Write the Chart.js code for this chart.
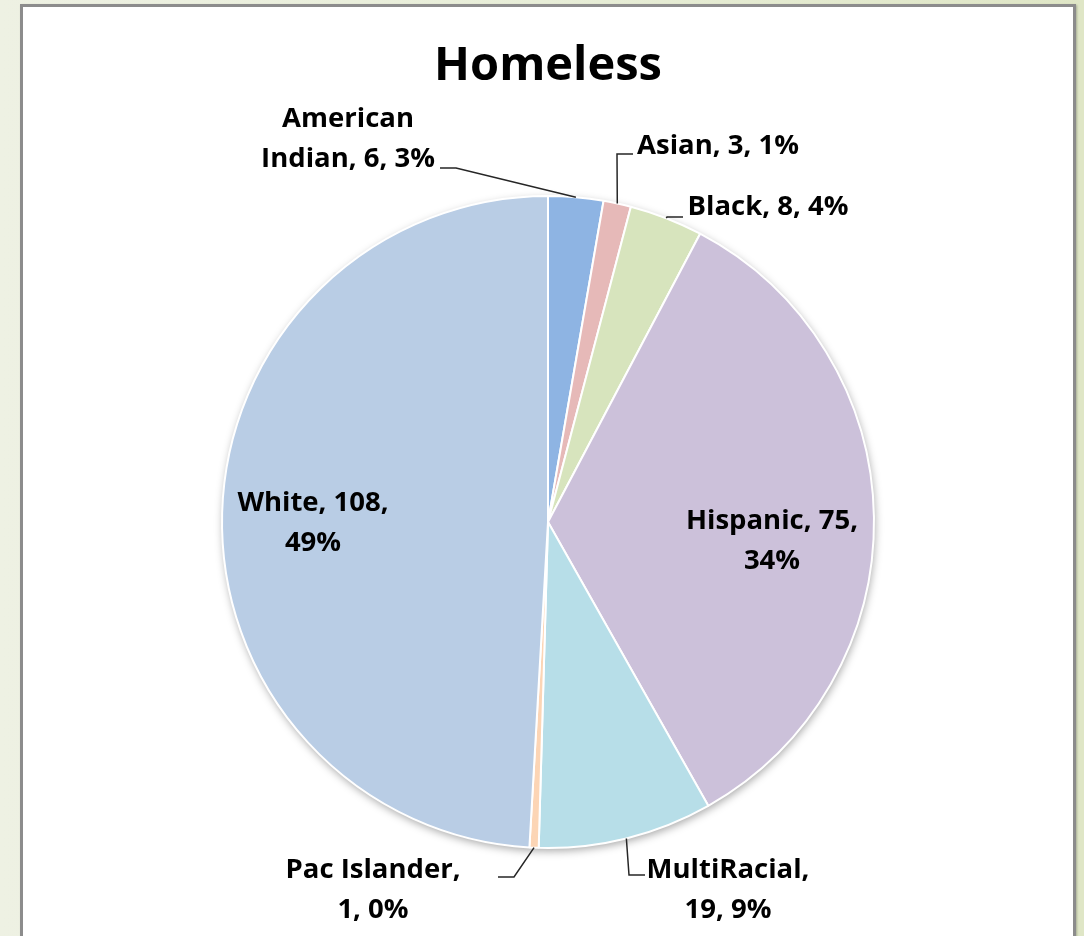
<!DOCTYPE html>
<html>
<head>
<meta charset="utf-8">
<script src="https://cdn.jsdelivr.net/npm/chart.js@4"></script>
<style>
  html, body { margin: 0; padding: 0; }
  body {
    width: 1084px; height: 936px; overflow: hidden; position: relative;
    background: linear-gradient(to right, #eef1e3 0%, #e8eed8 50%, #dfe6c6 100%);
  }
  #panel {
    position: absolute; left: 20px; top: 4px; width: 1050px; height: 1000px;
    background: #ffffff; border: 3px solid #8c8c8c;
    box-shadow: 1px 1px 2px rgba(0,0,0,0.25);
  }
  #c { position: absolute; left: 0; top: 0; }
</style>
</head>
<body>
<div id="panel"></div>
<canvas id="c" width="1084" height="936"></canvas>
<script>
// ---- data ----
const title = "Homeless";
const categories = ["American Indian", "Asian", "Black", "Hispanic", "MultiRacial", "Pac Islander", "White"];
const values = [6, 3, 8, 75, 19, 1, 108];
const colors = ["#8eb4e3", "#e6b9b8", "#d7e4bd", "#ccc1da", "#b7dee8", "#fcd5b5", "#b9cde5"];

// label layout (text centre positions, line breaks, leader attach point)
const labelLayout = [
  { lines: ["American", "Indian, {v}, {p}"], x: 348, y: 119, attach: [440, 168], dir: 1 },
  { lines: ["Asian, {v}, {p}"], x: 718, y: 146, attach: [633, 154], dir: -1 },
  { lines: ["Black, {v}, {p}"], x: 768, y: 207, attach: [683, 217], dir: -1 },
  { lines: ["Hispanic, {v},", "{p}"], x: 772, y: 521 },
  { lines: ["MultiRacial,", "{v}, {p}"], x: 728, y: 870, attach: [645, 875], dir: -1 },
  { lines: ["Pac Islander,", "{v}, {p}"], x: 373, y: 870, attach: [498, 877], dir: 1 },
  { lines: ["White, {v},", "{p}"], x: 313, y: 503 }
];

const FONT = "'Open Sans', Lato, sans-serif";

const shadowPlugin = {
  id: 'pieShadow',
  beforeDatasetsDraw(chart) {
    const arc = chart.getDatasetMeta(0).data[0];
    if (!arc) return;
    const ctx = chart.ctx;
    ctx.save();
    ctx.shadowColor = 'rgba(0,0,0,0.35)';
    ctx.shadowBlur = 8;
    ctx.shadowOffsetX = 1;
    ctx.shadowOffsetY = 3;
    ctx.fillStyle = '#ffffff';
    ctx.beginPath();
    ctx.arc(arc.x, arc.y, arc.outerRadius, 0, Math.PI * 2);
    ctx.fill();
    ctx.restore();
  }
};

const labelPlugin = {
  id: 'pieLabels',
  afterDatasetsDraw(chart) {
    const ctx = chart.ctx;
    const meta = chart.getDatasetMeta(0);
    const total = values.reduce((a, b) => a + b, 0);
    ctx.save();
    // title
    ctx.fillStyle = '#000000';
    ctx.font = "bold 47px " + FONT;
    ctx.textAlign = 'center';
    ctx.textBaseline = 'middle';
    ctx.fillText(title, chart.getDatasetMeta(0).data[0].x, 67);

    ctx.font = "bold 27.5px " + FONT;
    meta.data.forEach((arc, i) => {
      const L = labelLayout[i];
      const pct = Math.round(values[i] / total * 100) + '%';
      const lines = L.lines.map(s => s.replace('{v}', values[i]).replace('{p}', pct));
      const lh = 40;
      lines.forEach((t, k) => ctx.fillText(t, L.x, L.y + k * lh));
      if (L.attach) {
        const mid = (arc.startAngle + arc.endAngle) / 2;
        const ex = arc.x + Math.cos(mid) * arc.outerRadius;
        const ey = arc.y + Math.sin(mid) * arc.outerRadius;
        ctx.strokeStyle = '#262626';
        ctx.lineWidth = 1.5;
        ctx.beginPath();
        ctx.moveTo(L.attach[0], L.attach[1]);
        ctx.lineTo(L.attach[0] + L.dir * 16, L.attach[1]);
        ctx.lineTo(ex, ey);
        ctx.stroke();
      }
    });
    ctx.restore();
  }
};

new Chart(document.getElementById('c'), {
  type: 'pie',
  data: {
    labels: categories,
    datasets: [{
      data: values,
      backgroundColor: colors,
      borderColor: '#ffffff',
      borderWidth: 2
    }]
  },
  options: {
    responsive: false,
    animation: false,
    radius: 326,
    layout: { padding: { left: 200, right: 188, top: 190, bottom: 82 } },
    plugins: { legend: { display: false }, tooltip: { enabled: false }, title: { display: false } }
  },
  plugins: [shadowPlugin, labelPlugin]
});
</script>
</body>
</html>
